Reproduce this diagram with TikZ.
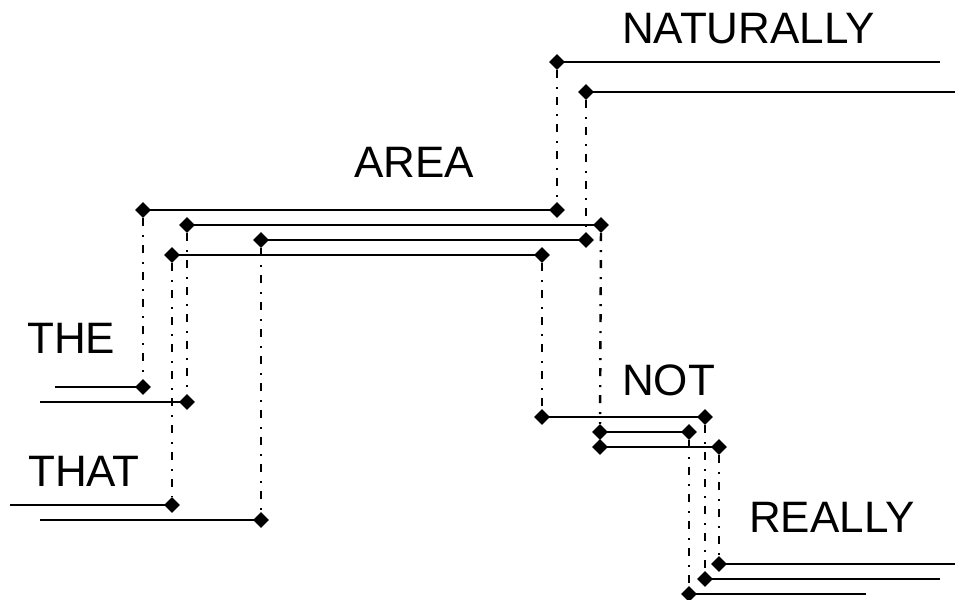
\documentclass[tikz,border=0pt]{standalone}
\usepackage{fontspec}
\setmainfont{Liberation Sans}
\usetikzlibrary{shapes.geometric}
\begin{document}
\begin{tikzpicture}[x=1pt,y=-1pt,
  dia/.style={diamond,fill=black,inner sep=0pt,minimum width=16pt,minimum height=16pt},
  solidln/.style={line width=2.6pt},
  dashln/.style={line width=2.4pt,dash pattern=on 8pt off 9pt on 2pt off 8pt},
  lbl/.style={anchor=base west,inner sep=0pt,font=\fontsize{44}{52}\selectfont}]
\useasboundingbox (0,0) rectangle (959,600);
% labels
\node[lbl] (lthe) at (27,353) {THE};
\node[lbl] (lthat) at (28,486) {THAT};
\node[lbl] (larea) at (354,177) {AREA};
\node[lbl] (lnat) at (622,43) {NATURALLY};
\node[lbl] (lnot) at (622,395) {NOT};
\node[lbl] (lreally) at (749,532) {REALLY};
% free ends
\coordinate (s1) at (55,387);
\coordinate (s2) at (40,402);
\coordinate (s3) at (10,505);
\coordinate (s4) at (40,520);
\coordinate (e1) at (940,62);
\coordinate (e2) at (955,92);
\coordinate (e3) at (955,564);
\coordinate (e4) at (940,579);
\coordinate (e5) at (866,594);
% diamonds
\node[dia] (h1) at (143,387) {};
\node[dia] (h2) at (187,402) {};
\node[dia] (t1) at (172,505) {};
\node[dia] (t2) at (261,520) {};
\node[dia] (a1l) at (143,210) {};
\node[dia] (a1r) at (557,210) {};
\node[dia] (a2l) at (187,225) {};
\node[dia] (a2r) at (601,225) {};
\node[dia] (a3l) at (261,240) {};
\node[dia] (a3r) at (586,240) {};
\node[dia] (a4l) at (172,255) {};
\node[dia] (a4r) at (542,255) {};
\node[dia] (n1) at (557,62) {};
\node[dia] (n2) at (586,92) {};
\node[dia] (o1l) at (542,417) {};
\node[dia] (o1r) at (705,417) {};
\node[dia] (o2l) at (600,432) {};
\node[dia] (o2r) at (689,432) {};
\node[dia] (o3l) at (600,447) {};
\node[dia] (o3r) at (719,447) {};
\node[dia] (r1) at (719,564) {};
\node[dia] (r2) at (705,579) {};
\node[dia] (r3) at (689,594) {};
% solid lines
\draw[solidln] (s1) -- (h1.center);
\draw[solidln] (s2) -- (h2.center);
\draw[solidln] (s3) -- (t1.center);
\draw[solidln] (s4) -- (t2.center);
\draw[solidln] (a1l.center) -- (a1r.center);
\draw[solidln] (a2l.center) -- (a2r.center);
\draw[solidln] (a3l.center) -- (a3r.center);
\draw[solidln] (a4l.center) -- (a4r.center);
\draw[solidln] (n1.center) -- (e1);
\draw[solidln] (n2.center) -- (e2);
\draw[solidln] (o1l.center) -- (o1r.center);
\draw[solidln] (o2l.center) -- (o2r.center);
\draw[solidln] (o3l.center) -- (o3r.center);
\draw[solidln] (r1.center) -- (e3);
\draw[solidln] (r2.center) -- (e4);
\draw[solidln] (r3.center) -- (e5);
% dash-dot verticals
\draw[dashln] (a1l) -- (h1);
\draw[dashln] (a2l) -- (h2);
\draw[dashln] (a4l) -- (t1);
\draw[dashln] (a3l) -- (t2);
\draw[dashln] (n1) -- (a1r);
\draw[dashln] (n2) -- (a3r);
\draw[dashln] (a4r) -- (o1l);
\draw[dashln] (a2r) -- (o2l);
\draw[dashln] (o2r) -- (r3);
\draw[dashln] (o1r) -- (r2);
\draw[dashln] (o3r) -- (r1);
\end{tikzpicture}
\end{document}
